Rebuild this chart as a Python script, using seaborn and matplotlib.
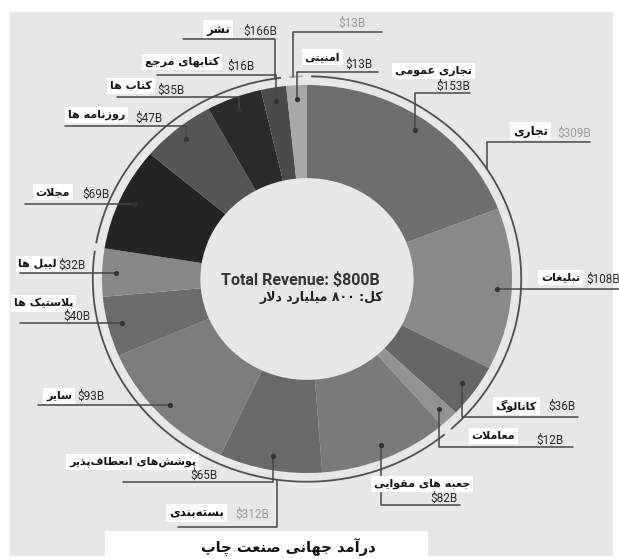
import re
import numpy as np
import matplotlib
matplotlib.use("Agg")
import matplotlib.pyplot as plt
from matplotlib.patches import Rectangle
import seaborn as sns

# ---- data -------------------------------------------------------------
segment_names = ["تجاری عمومی", "تبلیغات", "کاتالوگ", "معاملات",
                 "جعبه های مقوایی", "پوشش‌های انعطاف‌پذیر", "سایر", "پلاستیک ها", "لیبل ها",
                 "مجلات", "روزنامه ها", "کتاب ها", "کتابهای مرجع",
                 "امنیتی"]
segment_values = [153, 108, 36, 12, 82, 65, 93, 40, 32, 69, 47, 35, 16, 13]
segment_colors = ["#6e6e6e", "#8a8a8a", "#666666", "#939393",
                  "#7a7a7a", "#696969", "#7d7d7d", "#6b6b6b", "#888888",
                  "#242424", "#555555", "#2b2b2b", "#4b4b4b",
                  "#a8a8a8"]
group_names = ["تجاری", "بسته‌بندی", "نشر", "امنیتی"]
group_totals = [309, 312, 166, 13]
group_sizes = [4, 5, 4, 1]
center_title = "Total Revenue: $800B"
center_subtitle = "کل: ۸۰۰ میلیارد دلار"
chart_title = "درآمد جهانی صنعت چاپ"

# ---- label layout (pixel positions measured on the reference) ---------
# kind "v": vertical from dot to line_y then horizontal to end_x
# kind "h": horizontal from dot to end_x
seg_layout = [
    dict(kind="v", ly=93, ex=470, nx=472, ndy=-22, vx=470, vha="right", vdy=-7),
    dict(kind="h", ly=None, ex=619, nx=580, ndy=-11, vx=586, vha="left", vdy=-9),
    dict(kind="v", ly=417, ex=578, nx=537, ndy=-11, vx=548, vha="left", vdy=-11),
    dict(kind="v", ly=447, ex=573, nx=515, ndy=-11, vx=536, vha="left", vdy=-7),
    dict(kind="v", ly=505, ex=460, nx=470, ndy=-21, vx=458, vha="right", vdy=-7),
    dict(kind="v", ly=482, ex=123, nx=196, ndy=-20, vx=218, vha="right", vdy=-7),
    dict(kind="h", ly=None, ex=38, nx=72, ndy=-9, vx=77, vha="left", vdy=-8),
    dict(kind="h", ly=None, ex=20, nx=73, ndy=-20, vx=90, vha="right", vdy=-7),
    dict(kind="h", ly=None, ex=20, nx=57, ndy=-9, vx=58, vha="left", vdy=-8),
    dict(kind="h", ly=None, ex=25, nx=70, ndy=-12, vx=82, vha="left", vdy=-10),
    dict(kind="v", ly=126, ex=65, nx=125, ndy=-11, vx=135, vha="left", vdy=-8),
    dict(kind="v", ly=97, ex=117, nx=152, ndy=-11, vx=157, vha="left", vdy=-7),
    dict(kind="v", ly=75, ex=157, nx=219, ndy=-13, vx=227, vha="left", vdy=-9),
    dict(kind="v", ly=72, ex=378, nx=340, ndy=-15, vx=345, vha="left", vdy=-8),
]
group_layout = [
    dict(gx=487, ly=142, ex=590, nx=548, ndy=-11, vx=557, vdy=-9, vcolor="#9b9b9b"),
    dict(gx=277, ly=527, ex=178, nx=224, ndy=-14, vx=235, vdy=-13, vcolor="#9b9b9b"),
    dict(gx=275, ly=39, ex=183, nx=230, ndy=-10, vx=243, vdy=-8, vcolor="#333333"),
    dict(gx=293, ly=32, ex=382, nx=None, ndy=0, vx=338, vdy=-9, vcolor="#9b9b9b"),
]

# ---- minimal Persian shaping (matplotlib has no RTL / joining) -------
ARABIC_FORMS = {
    "ا": ("\ufe8d", "\ufe8e", None, None),
    "آ": ("\ufe81", "\ufe82", None, None),
    "ب": ("\ufe8f", "\ufe90", "\ufe91", "\ufe92"),
    "پ": ("\ufb56", "\ufb57", "\ufb58", "\ufb59"),
    "ت": ("\ufe95", "\ufe96", "\ufe97", "\ufe98"),
    "ج": ("\ufe9d", "\ufe9e", "\ufe9f", "\ufea0"),
    "چ": ("\ufb7a", "\ufb7b", "\ufb7c", "\ufb7d"),
    "د": ("\ufea9", "\ufeaa", None, None),
    "ذ": ("\ufeab", "\ufeac", None, None),
    "ر": ("\ufead", "\ufeae", None, None),
    "ز": ("\ufeaf", "\ufeb0", None, None),
    "س": ("\ufeb1", "\ufeb2", "\ufeb3", "\ufeb4"),
    "ش": ("\ufeb5", "\ufeb6", "\ufeb7", "\ufeb8"),
    "ص": ("\ufeb9", "\ufeba", "\ufebb", "\ufebc"),
    "ط": ("\ufec1", "\ufec2", "\ufec3", "\ufec4"),
    "ع": ("\ufec9", "\ufeca", "\ufecb", "\ufecc"),
    "غ": ("\ufecd", "\ufece", "\ufecf", "\ufed0"),
    "ف": ("\ufed1", "\ufed2", "\ufed3", "\ufed4"),
    "ق": ("\ufed5", "\ufed6", "\ufed7", "\ufed8"),
    "ک": ("\ufb8e", "\ufb8f", "\ufb90", "\ufb91"),
    "گ": ("\ufb92", "\ufb93", "\ufb94", "\ufb95"),
    "ل": ("\ufedd", "\ufede", "\ufedf", "\ufee0"),
    "م": ("\ufee1", "\ufee2", "\ufee3", "\ufee4"),
    "ن": ("\ufee5", "\ufee6", "\ufee7", "\ufee8"),
    "ه": ("\ufee9", "\ufeea", "\ufeeb", "\ufeec"),
    "و": ("\ufeed", "\ufeee", None, None),
    "ی": ("\ufbfc", "\ufbfd", "\ufbfe", "\ufbff"),
}
LAM_ALEF = {"ا": ("\ufefb", "\ufefc"), "آ": ("\ufef5", "\ufef6")}


def joins_forward(c):
    return c in ARABIC_FORMS and ARABIC_FORMS[c][2] is not None


def fa(text):
    out = []
    i = 0
    n = len(text)
    while i < n:
        c = text[i]
        if c not in ARABIC_FORMS:
            if c != "\u200c":
                out.append(c)
            i += 1
            continue
        after = joins_forward(text[i - 1]) if i > 0 else False
        nxt = text[i + 1] if i + 1 < n else ""
        if c == "ل" and nxt in LAM_ALEF:
            out.append(LAM_ALEF[nxt][1 if after else 0])
            i += 2
            continue
        before = joins_forward(c) and nxt in ARABIC_FORMS
        forms = ARABIC_FORMS[c]
        if after and before:
            out.append(forms[3])
        elif after:
            out.append(forms[1])
        elif before:
            out.append(forms[2])
        else:
            out.append(forms[0])
        i += 1
    tokens = re.findall(r"[0-9\u06f0-\u06f9A-Za-z$.]+|.", "".join(out))
    return "".join(reversed(tokens))


# ---- figure ------------------------------------------------------------
sns.set_theme(style="white")
plt.rcParams["font.family"] = ["Roboto", "DejaVu Sans"]
LATIN = ["Roboto", "DejaVu Sans"]
PERSIAN = ["DejaVu Sans"]
BG = "#e7e7e7"
LINE = "#474747"

CX, CY, RX, RY = 307, 279, 205, 194
RING = 1.045


def ux(px):
    return (px - CX) / RX


def uy(py):
    return (CY - py) / RY


fig = plt.figure(figsize=(6.19, 5.59), dpi=100, facecolor="white")
ax = fig.add_axes([0, 0, 1, 1])

ax.pie(segment_values, colors=segment_colors, startangle=90, counterclock=False,
       radius=1, wedgeprops=dict(width=0.48, linewidth=0))

# background panel
ax.add_patch(Rectangle((ux(10), uy(556)), ux(613) - ux(10), uy(12) - uy(556),
                       facecolor=BG, edgecolor="none", zorder=-5))
# bottom white band behind the title
ax.add_patch(Rectangle((ux(105), uy(559)), ux(428) - ux(105), uy(531) - uy(559),
                       facecolor="white", edgecolor="none", zorder=-4))

vals = np.array(segment_values, dtype=float)
total = vals.sum()

# outer group ring
ends = np.cumsum(vals)[np.cumsum(group_sizes) - 1]
starts = np.concatenate([[0], ends[:-1]])
ring_colors = ["#4f4f4f", "#4f4f4f", "#4f4f4f", "#b0b0b0"]
gap = 1.1
for s, e, col in zip(starts, ends, ring_colors):
    a0 = 90 - s / total * 360 - gap
    a1 = 90 - e / total * 360 + gap
    t = np.deg2rad(np.linspace(a0, a1, 200))
    ax.plot(RING * np.cos(t), RING * np.sin(t), color=col, lw=1.3, solid_capstyle="butt")

# dots in the middle of each slice
mid = np.deg2rad(90 - (np.cumsum(vals) - vals / 2) / total * 360)
dot_x = 0.93 * np.cos(mid)
dot_y = 0.93 * np.sin(mid)
sns.scatterplot(x=dot_x, y=dot_y, ax=ax, color="#333333", s=14, linewidth=0,
                zorder=6, legend=False)

name_box = dict(boxstyle="square,pad=0.25", fc="white", ec="none")

for name, v, lay, x0, y0 in zip(segment_names, segment_values, seg_layout, dot_x, dot_y):
    if lay["kind"] == "v":
        ly = lay["ly"]
        ax.plot([x0, x0, ux(lay["ex"])], [y0, uy(ly), uy(ly)], color=LINE, lw=1.1, zorder=5)
    else:
        ly = CY - y0 * RY
        ax.plot([x0, ux(lay["ex"])], [y0, y0], color=LINE, lw=1.1, zorder=5)
    ax.text(ux(lay["nx"]), uy(ly + lay["ndy"]), fa(name), ha="right", va="center",
            fontsize=8, fontweight="bold", family=PERSIAN, color="#151515",
            bbox=name_box, zorder=7)
    ax.text(ux(lay["vx"]), uy(ly + lay["vdy"]), f"${v}B", ha=lay["vha"], va="center",
            fontsize=8.5, family=LATIN, color="#2b2b2b", zorder=8)

for name, tot, lay in zip(group_names, group_totals, group_layout):
    gx = ux(lay["gx"])
    side = 1 if lay["ly"] < CY else -1
    ring_y = side * RING * np.sqrt(max(0.0, 1 - (gx / RING) ** 2))
    ly = lay["ly"]
    ax.plot([gx, gx, ux(lay["ex"])], [ring_y, uy(ly), uy(ly)], color=LINE, lw=1.1, zorder=5)
    if lay["nx"] is not None:
        ax.text(ux(lay["nx"]), uy(ly + lay["ndy"]), fa(name), ha="right", va="center",
                fontsize=8.5, fontweight="bold", family=PERSIAN, color="#111111",
                bbox=name_box, zorder=7)
    ax.text(ux(lay["vx"]), uy(ly + lay["vdy"]), f"${tot}B", ha="left", va="center",
            fontsize=8.5, family=LATIN, color=lay["vcolor"], zorder=8)

# centre text
ax.text(ux(300), uy(280), center_title, ha="center", va="center", fontsize=11.5,
        fontweight="bold", family=LATIN, color="#333333")
ax.text(ux(383), uy(297), fa(center_subtitle), ha="right", va="center", fontsize=9,
        fontweight="bold", family=PERSIAN, color="#222222")

# bottom title
ax.text(ux(288), uy(548), fa(chart_title), ha="center", va="center", fontsize=10.5,
        fontweight="bold", family=PERSIAN, color="#111111")

ax.set_aspect("auto")
ax.set_xlim(ux(0), ux(619))
ax.set_ylim(uy(559), uy(0))
ax.axis("off")

fig.savefig("out.png", dpi=100, facecolor="white")
